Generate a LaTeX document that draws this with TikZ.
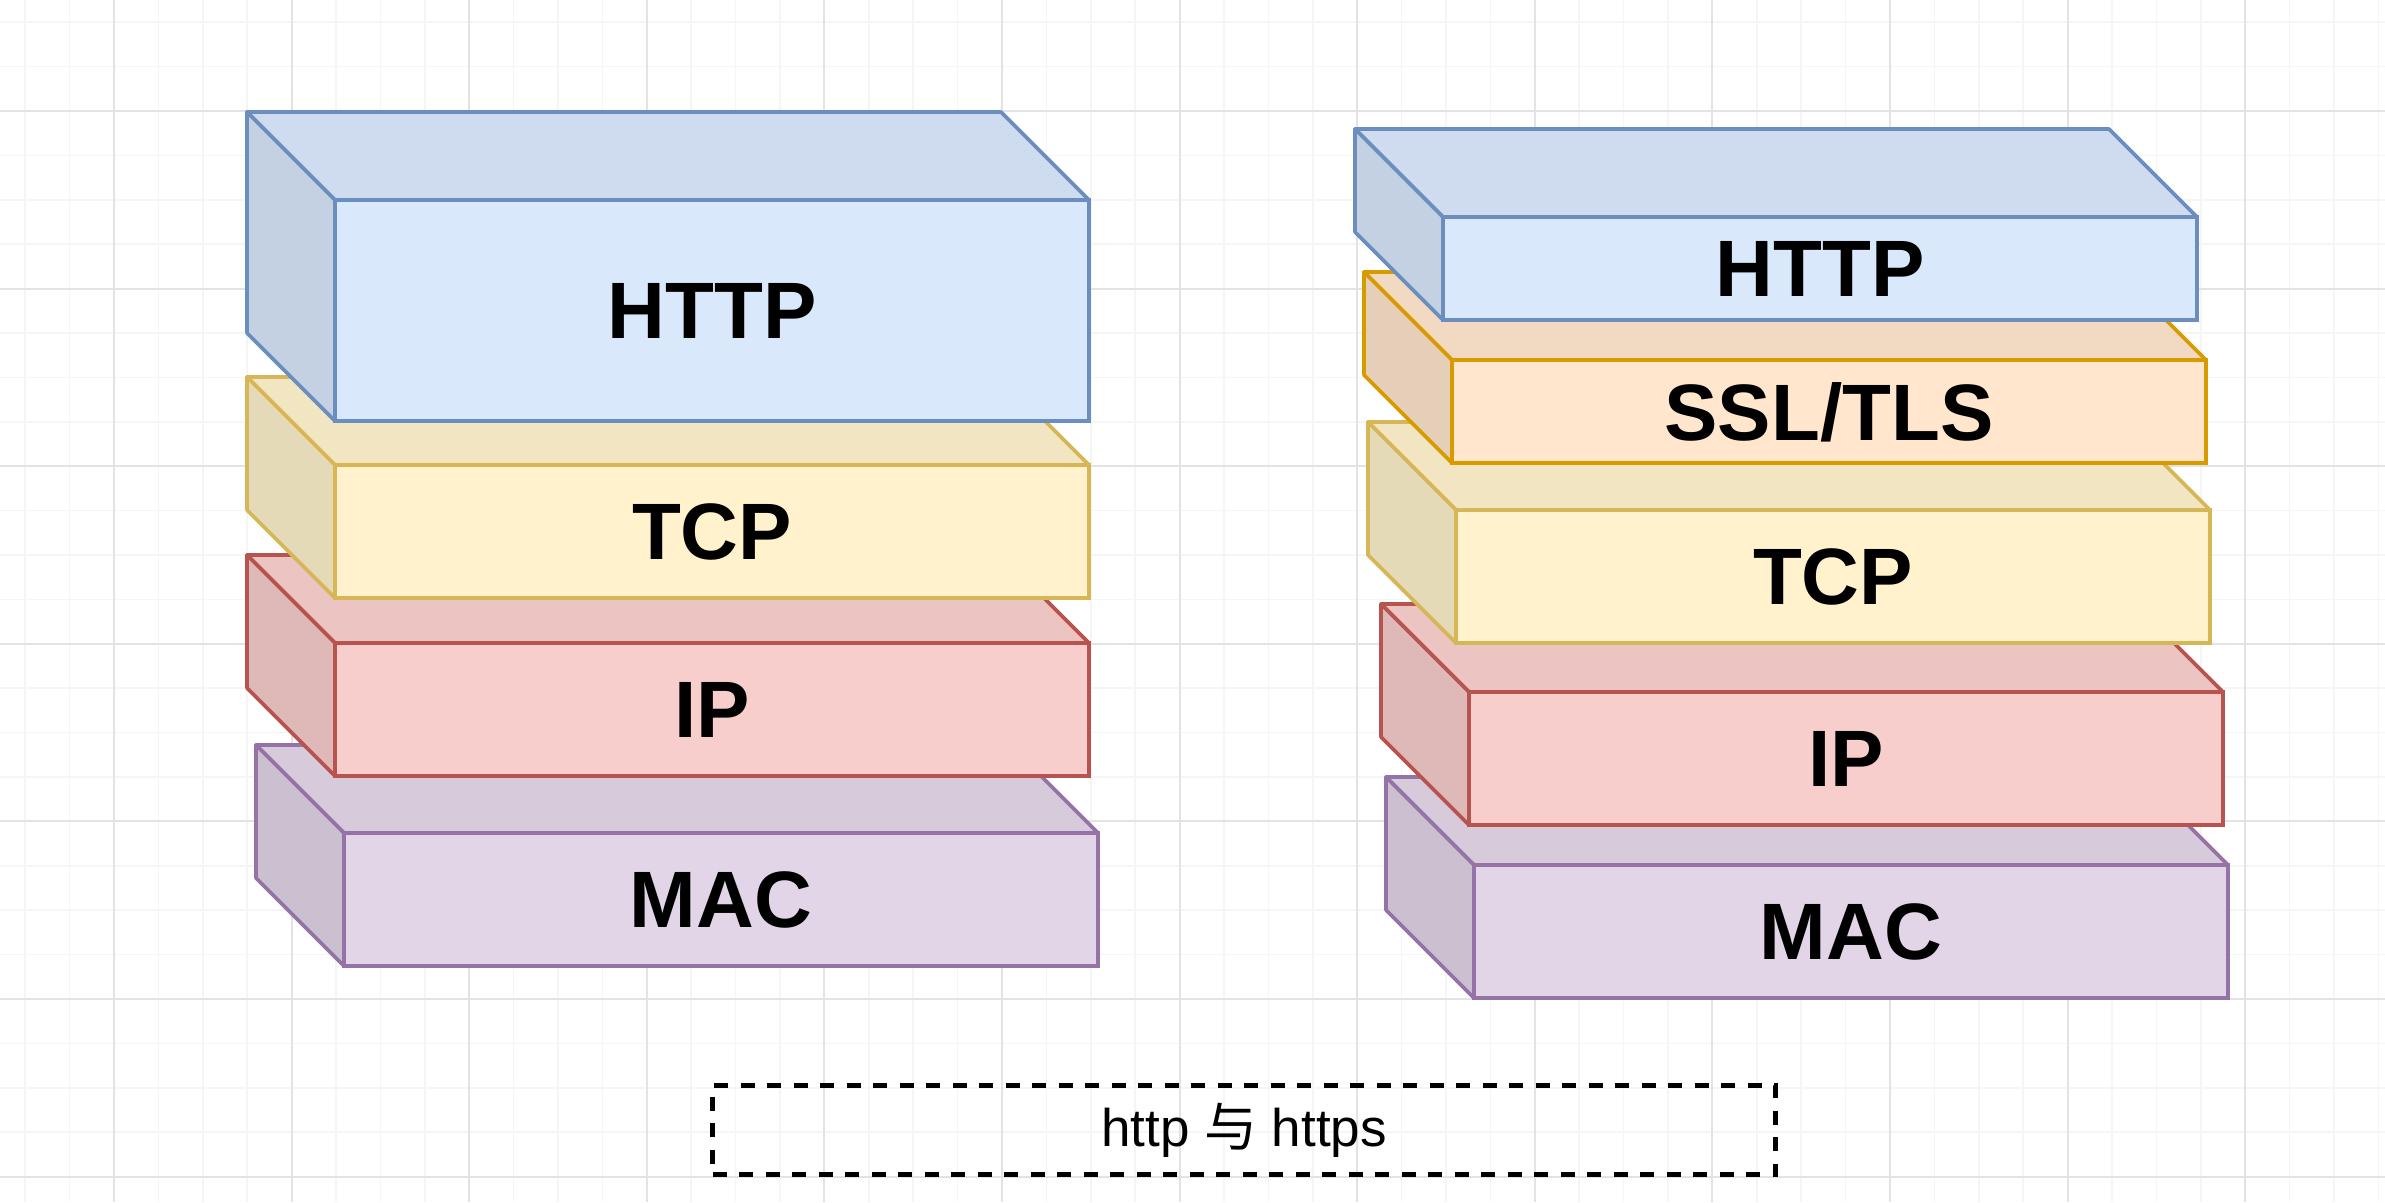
\documentclass[tikz,border=0pt]{standalone}
\usepackage{fontspec}
\setmainfont{Liberation Sans}
\newfontfamily\cjkfont{Noto Sans CJK SC}
\usepackage{xcolor}
\definecolor{bluefill}{HTML}{DAE8FC}
\definecolor{blueline}{HTML}{6C8EBF}
\definecolor{yellowfill}{HTML}{FFF2CC}
\definecolor{yellowline}{HTML}{D6B656}
\definecolor{redfill}{HTML}{F8CECC}
\definecolor{redline}{HTML}{B85450}
\definecolor{purplefill}{HTML}{E1D5E7}
\definecolor{purpleline}{HTML}{9673A6}
\definecolor{orangefill}{HTML}{FFE6CC}
\definecolor{orangeline}{HTML}{D79B00}
\usepackage{tikz}

\newcommand{\layerdepth}{88}
% name, colour, x, y, height, label
\newcommand{\stacklayer}[6]{%
  \pgfmathsetmacro{\fw}{842-\layerdepth}
  \pgfmathsetmacro{\fh}{#5-\layerdepth}
  \node[face=#2, minimum width=\fw pt, minimum height=\fh pt, anchor=north west]
    (#1) at (#3+\layerdepth,#4+\layerdepth) {#6};
  \draw[edge=#2, fill=#2fill!95!black] (#1.north west) -- ++(-\layerdepth,-\layerdepth)
    -- ++(\fw,0) -- (#1.north east) -- cycle;
  \draw[edge=#2, fill=#2fill!90!black] (#1.north west) -- ++(-\layerdepth,-\layerdepth)
    -- ++(0,\fh) -- (#1.south west) -- cycle;
}

\begin{document}
\begin{tikzpicture}[x=1pt, y=-1pt,
    face/.style={
        rectangle, draw=#1line, fill=#1fill, line width=3.6pt,
        outer sep=0pt, inner sep=0pt, text depth=0pt,
        font=\fontsize{80}{92}\selectfont\bfseries
    },
    edge/.style={draw=#1line, line width=3.6pt, line join=round},
    minorgrid/.style={black!4, line width=1.6pt},
    majorgrid/.style={black!11, line width=2pt},
    caption/.style={
        rectangle, draw=black, line width=4.6pt, dash pattern=on 14pt off 12.5pt,
        minimum width=1063pt, minimum height=89pt,
        font=\fontsize{53}{64}\selectfont
    }
]

\useasboundingbox (0,0) rectangle (2385,1202);
\fill[white] (0,0) rectangle (2385,1202);

\foreach \i in {0,...,53}
    \draw[minorgrid] ({25.2+44.4*\i},0) -- ({25.2+44.4*\i},1202);
\foreach \i in {0,...,26}
    \draw[minorgrid] (0,{22.2+44.4*\i}) -- (2385,{22.2+44.4*\i});
\foreach \i in {0,...,13}
    \draw[majorgrid] ({114+177.6*\i},0) -- ({114+177.6*\i},1202);
\foreach \i in {0,...,6}
    \draw[majorgrid] (0,{111+177.6*\i}) -- (2385,{111+177.6*\i});

\stacklayer{macL}{purple}{256}{745}{221}{MAC}
\stacklayer{ipL}{red}{247}{555}{221}{IP}
\stacklayer{tcpL}{yellow}{247}{377}{221}{TCP}
\stacklayer{httpL}{blue}{247}{112}{309}{HTTP}

\stacklayer{macR}{purple}{1386}{777}{221}{MAC}
\stacklayer{ipR}{red}{1381}{604}{221}{IP}
\stacklayer{tcpR}{yellow}{1368}{422}{221}{TCP}
\stacklayer{sslR}{orange}{1364}{272}{191}{SSL/TLS}
\stacklayer{httpR}{blue}{1355}{129}{191}{HTTP}

\node[caption] (title) at (1244,1130) {http {\cjkfont 与} https};

\end{tikzpicture}
\end{document}
